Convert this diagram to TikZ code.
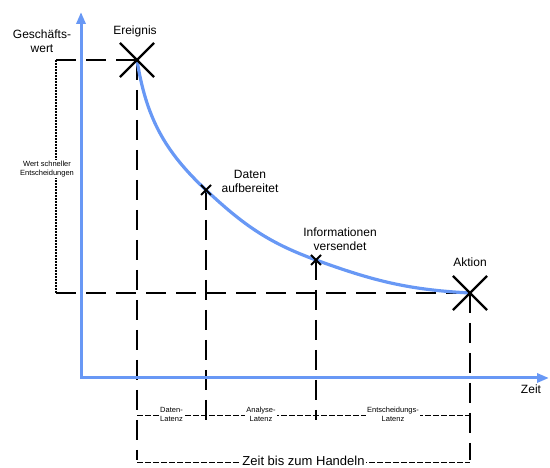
\documentclass[tikz,border=0pt]{standalone}
\usepackage{fontspec}
\setmainfont{Liberation Sans}
\usetikzlibrary{arrows.meta,shapes.misc}
\definecolor{curveblue}{RGB}{104,152,245}
\begin{document}
\begin{tikzpicture}[x=1pt,y=1pt,
  axis/.style={draw=curveblue, line width=3pt, line join=miter,
    {Triangle[length=12pt,width=9pt]}-{Triangle[length=12pt,width=9pt]}},
  curve/.style={draw=curveblue, line width=3.2pt, line cap=round},
  guide/.style={draw=black, line width=1.4pt, dash pattern=on 20pt off 10pt},
  valueline/.style={draw=black, line width=1.5pt, dash pattern=on 2pt off 1pt},
  dimline/.style={draw=black, line width=0.8pt, dash pattern=on 6pt off 2pt},
  bigcross/.style={cross out, draw=black, line width=2.2pt, minimum size=32pt, inner sep=0pt},
  smallcross/.style={cross out, draw=black, line width=2pt, minimum size=8pt, inner sep=0pt},
  lbl/.style={align=center, inner sep=1pt, font=\fontsize{12}{14}\selectfont},
  smalllbl/.style={align=center, inner sep=1pt, fill=white, font=\fontsize{7.5}{8.5}\selectfont},
  biglbl/.style={inner sep=1pt, fill=white, font=\fontsize{13}{15}\selectfont}
]
\useasboundingbox (0,0) rectangle (550,468);

% event points on the value curve
\coordinate (ev)  at (137,408);
\coordinate (da)  at (206,278);
\coordinate (inf) at (316,208);
\coordinate (ak)  at (470,175);

% value reference lines on the left
\coordinate (lt) at (56,408);
\coordinate (lb) at (56,175);
\coordinate (row1) at (0,53);
\coordinate (row2) at (0,6);
\coordinate (foot) at (0,8);

% dashed guide lines
\draw[guide] (lt) -- (ev);
\draw[guide] (lb) -- (ak);
\draw[valueline] (lt) -- (lb);
\draw[guide] (ev) -- (ev |- foot);
\draw[guide] (ak) -- (ak |- foot);
\draw[guide] (da) -- (da |- row1) -- ++(0,-5);
\draw[guide] (inf) -- (inf |- row1) -- ++(0,-5);

% axes
\coordinate (o) at (81,90);
\coordinate (ytip) at (81,456);
\coordinate (xtip) at (549,90);
\draw[axis] (ytip) -- (o) -- (xtip);

% value curve
\draw[curve] (ev) to[out=-81,in=137] (da) to[out=-43,in=160] (inf) to[out=-20,in=177] (ak);

% markers
\node[bigcross] (evx) at (ev) {};
\node[bigcross] (akx) at (ak) {};
\node[smallcross] (dax) at (da) {};
\node[smallcross] (infx) at (inf) {};

% labels
\node[lbl] (gw) at (42,427) {Geschäfts-\\wert};
\node[lbl] (evl) at (135,437) {Ereignis};
\node[lbl] (dal) at (250,287) {Daten\\aufbereitet};
\node[lbl] (infl) at (340,229) {Informationen\\versendet};
\node[lbl] (akl) at (470,206) {Aktion};
\node[lbl] (zeit) at (531,79) {Zeit};
\node[smalllbl] (wse) at (47,299) {Wert schneller\\Entscheidungen};

% latency dimension lines
\draw[dimline] (ev |- row1) -- (ak |- row1);
\node[smalllbl] (l1) at (171.5,53.5) {Daten-\\Latenz};
\node[smalllbl] (l2) at (261,53.5) {Analyse-\\Latenz};
\node[smalllbl] (l3) at (393,53.5) {Entscheidungs-\\Latenz};

\draw[dimline] (ev |- row2) -- (ak |- row2);
\node[biglbl, anchor=base] (ttl) at (303.5,2) {Zeit bis zum Handeln};
\end{tikzpicture}
\end{document}
